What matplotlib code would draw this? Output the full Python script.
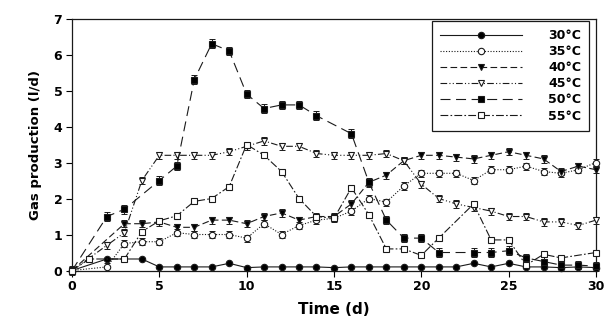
import matplotlib
matplotlib.use("Agg")
import matplotlib.pyplot as plt

plt.rcParams['font.family'] = ['DejaVu Sans']
plt.rcParams['font.weight'] = 'bold'

# ---- data ----
days_30 = [0, 2, 4, 5, 6, 7, 8, 9, 10, 11, 12, 13, 14, 15, 16, 17, 18, 19, 20, 21, 22, 23, 24, 25, 26, 27, 28, 29, 30]
gas_30 = [0, 0.32, 0.32, 0.1, 0.1, 0.1, 0.1, 0.2, 0.08, 0.1, 0.1, 0.1, 0.1, 0.08, 0.1, 0.1, 0.1, 0.1, 0.1, 0.1, 0.1, 0.2, 0.1, 0.2, 0.1, 0.1, 0.08, 0.1, 0.08]

days_35 = [0, 2, 3, 4, 5, 6, 7, 8, 9, 10, 11, 12, 13, 14, 15, 16, 17, 18, 19, 20, 21, 22, 23, 24, 25, 26, 27, 28, 29, 30]
gas_35 = [0, 0.1, 0.75, 0.8, 0.8, 1.05, 1.0, 1.0, 1.0, 0.9, 1.3, 1.0, 1.25, 1.4, 1.45, 1.65, 2.0, 1.9, 2.35, 2.7, 2.7, 2.7, 2.5, 2.8, 2.8, 2.9, 2.75, 2.7, 2.8, 3.0]

days_40 = [0, 3, 4, 5, 6, 7, 8, 9, 10, 11, 12, 13, 14, 15, 16, 17, 18, 19, 20, 21, 22, 23, 24, 25, 26, 27, 28, 29, 30]
gas_40 = [0, 1.3, 1.3, 1.35, 1.2, 1.2, 1.4, 1.4, 1.3, 1.5, 1.6, 1.4, 1.5, 1.5, 1.85, 2.45, 2.65, 3.05, 3.2, 3.2, 3.15, 3.1, 3.2, 3.3, 3.2, 3.1, 2.75, 2.9, 2.8]

days_45 = [0, 2, 3, 4, 5, 6, 7, 8, 9, 10, 11, 12, 13, 14, 15, 16, 17, 18, 19, 20, 21, 22, 23, 24, 25, 26, 27, 28, 29, 30]
gas_45 = [0, 0.7, 1.05, 2.5, 3.2, 3.2, 3.2, 3.2, 3.3, 3.45, 3.6, 3.45, 3.45, 3.25, 3.2, 3.2, 3.2, 3.25, 3.05, 2.4, 2.0, 1.85, 1.75, 1.65, 1.5, 1.5, 1.35, 1.35, 1.25, 1.4]

days_50 = [0, 2, 3, 5, 6, 7, 8, 9, 10, 11, 12, 13, 14, 16, 17, 18, 19, 20, 21, 23, 24, 25, 26, 27, 28, 29, 30]
gas_50 = [0, 1.5, 1.7, 2.5, 2.9, 5.3, 6.3, 6.1, 4.9, 4.5, 4.6, 4.6, 4.3, 3.8, 2.45, 1.4, 0.9, 0.9, 0.5, 0.5, 0.5, 0.55, 0.35, 0.25, 0.15, 0.15, 0.12]

days_55 = [0, 1, 3, 4, 5, 6, 7, 8, 9, 10, 11, 12, 13, 14, 15, 16, 17, 18, 19, 20, 21, 23, 24, 25, 26, 27, 28, 30]
gas_55 = [0, 0.32, 0.32, 1.08, 1.38, 1.52, 1.92, 2.0, 2.33, 3.5, 3.2, 2.75, 2.0, 1.5, 1.45, 2.3, 1.55, 0.6, 0.6, 0.42, 0.9, 1.85, 0.85, 0.85, 0.15, 0.45, 0.35, 0.5]

labels = ['30°C', '35°C', '40°C', '45°C', '50°C', '55°C']
x_ticks = [0, 5, 10, 15, 20, 25, 30]
y_ticks = [0, 1, 2, 3, 4, 5, 6, 7]

series = [
    (days_30, gas_30, 'o', 'k', '-', 0.0),
    (days_35, gas_35, 'o', 'white', (0, (1, 1.5)), 0.1),
    (days_40, gas_40, 'v', 'k', (0, (6, 3)), 0.1),
    (days_45, gas_45, 'v', 'white', (0, (6, 2, 1, 2, 1, 2)), 0.1),
    (days_50, gas_50, 's', 'k', (0, (9, 5)), 0.12),
    (days_55, gas_55, 's', 'white', (0, (7, 2, 1.5, 2)), 0.0),
]

fig = plt.figure(figsize=(6.05, 3.23), dpi=100)
ax = fig.add_axes([0.119, 0.1625, 0.866, 0.7802])
ink = '#1a1a1a'

for (xs, ys, mk, fc, ls, err), lab in zip(series, labels):
    if err > 0:
        ax.errorbar(xs, ys, yerr=err, fmt='none', ecolor=ink, elinewidth=0.7,
                    capsize=2.5, capthick=0.7, clip_on=False, zorder=2)
    ax.plot(xs, ys, linestyle=ls, color=ink, linewidth=0.8, marker=mk,
            markersize=5 if mk == 's' else 4.6, markerfacecolor=fc,
            markeredgecolor=ink, markeredgewidth=0.8, label=lab,
            clip_on=False, zorder=3)

ax.set_xlim(0, 30)
ax.set_ylim(0, 7)
ax.set_xticks(x_ticks)
ax.set_yticks(y_ticks)
ax.tick_params(direction='out', length=4, width=0.8, labelsize=9, pad=3)
for lab in ax.get_xticklabels() + ax.get_yticklabels():
    lab.set_fontweight('bold')
for sp in ax.spines.values():
    sp.set_linewidth(0.9)
    sp.set_color(ink)

ax.set_xlabel('Time (d)', fontsize=11, fontweight='bold', labelpad=6)
ax.set_ylabel('Gas production (l/d)', fontsize=9.5, fontweight='bold', labelpad=8)

leg = ax.legend(loc='upper right', bbox_to_anchor=(0.987, 0.991), borderaxespad=0,
                handlelength=6.5, handletextpad=2.1, labelspacing=0.25,
                borderpad=0.65, numpoints=1, fancybox=False, framealpha=1,
                edgecolor=ink, prop={'weight': 'bold', 'size': 9})
leg.get_frame().set_linewidth(0.9)

fig.savefig('out.png', dpi=100)
